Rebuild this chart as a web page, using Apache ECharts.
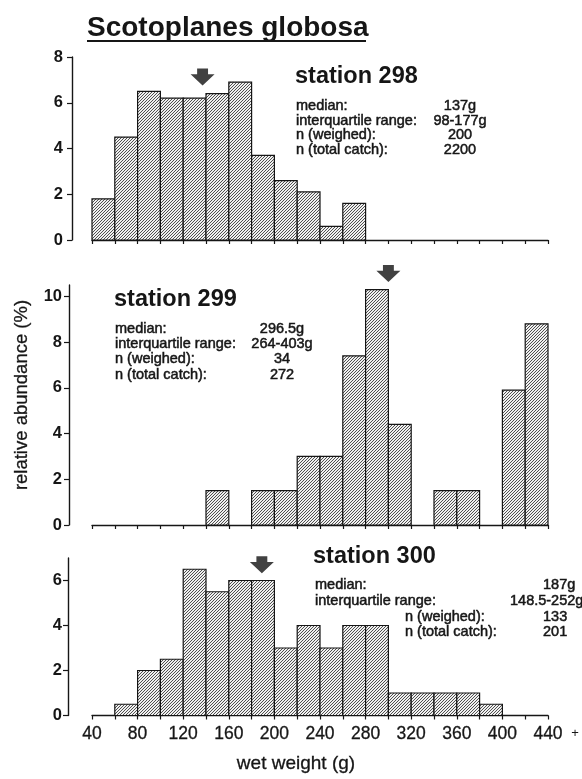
<!DOCTYPE html>
<html>
<head>
<meta charset="utf-8">
<script src="https://cdn.jsdelivr.net/npm/echarts@6/dist/echarts.min.js"></script>
<style>
html,body{margin:0;padding:0;background:#fff;}
#chart{width:582px;height:779px;}
</style>
</head>
<body>
<div id="chart"></div>
<script>
// bin edges (wet weight, g)
const binEdges = [40,60,80,100,120,140,160,180,200,220,240,260,280,300,320,340,360,380,400,420,440];
// relative abundance (%) per bin
const st298 = [1.8,4.5,6.5,6.2,6.2,6.4,6.9,3.7,2.6,2.1,0.6,1.6,0,0,0,0,0,0,0,0];
const st299 = [0,0,0,0,0,1.5,0,1.5,1.5,3.0,3.0,7.4,10.3,4.4,0,1.5,1.5,0,5.9,8.8];
const st300 = [0,0.5,2.0,2.5,6.5,5.5,6.0,6.0,3.0,4.0,3.0,4.0,4.0,1.0,1.0,1.0,1.0,0.5,0,0];
// median arrows: [x position (g), arrow tip (%)]
const arrow298 = [137, 6.75];
const arrow299 = [300, 10.63];
const arrow300 = [189, 6.32];
// tick labels
const xTickLabels = [40,80,120,160,200,240,280,320,360,400,440];
const yTicks298 = [0,2,4,6,8];
const yTicks299 = [0,2,4,6,8,10];
const yTicks300 = [0,2,4,6];
// annotation texts
const info298 = [["median:","137g"],["interquartile range:","98-177g"],["n (weighed):","200"],["n (total catch):","2200"]];
const info299 = [["median:","296.5g"],["interquartile range:","264-403g"],["n (weighed):","34"],["n (total catch):","272"]];
const info300 = [["median:","187g"],["interquartile range:","148.5-252g"],["n (weighed):","133"],["n (total catch):","201"]];

// hatch pattern
const pc = document.createElement('canvas');
pc.width = 3; pc.height = 3;
const pctx = pc.getContext('2d');
const img = pctx.createImageData(3,3);
for (let y=0;y<3;y++) for (let x=0;x<3;x++){
  const i=(y*3+x)*4;
  const dark = ((x+y)%3)===0;
  const c = dark ? 80 : 240;
  img.data[i]=c; img.data[i+1]=c; img.data[i+2]=c; img.data[i+3]=255;
}
pctx.putImageData(img,0,0);
const hatch = {image: pc, repeat: 'repeat'};

function hist(vals){ return vals.map((v,i)=>[binEdges[i], binEdges[i+1], v]); }

function renderItem(params, api){
  const v = api.value(2);
  if (!v) return null;
  const p0 = api.coord([api.value(0), v]);
  const p1 = api.coord([api.value(1), 0]);
  return {type:'rect', shape:{x:p0[0], y:p0[1], width:p1[0]-p0[0], height:p1[1]-p0[1]},
    style:{fill: hatch, stroke:'#151515', lineWidth:1.2}};
}

const FONT = 'Arial, "Liberation Sans", Helvetica, sans-serif';
const INK = '#161616';

function xAxis(idx, showLabels){
  return {
    type:'value', gridIndex: idx, min:40, max:440, interval:20,
    splitLine:{show:false},
    axisLine:{show:true, lineStyle:{color:INK, width:1.4}},
    axisTick:{show:true, length:4, lineStyle:{color:INK, width:1.2}},
    axisLabel: showLabels ? {show:true, customValues:xTickLabels, color:INK, fontSize:17.5, fontFamily:FONT, margin:10,
                              textBorderColor:INK, textBorderWidth:0.3}
                          : {show:false}
  };
}
function yAxis(idx, max, ticks, offset, margin){
  return {
    type:'value', gridIndex: idx, min:0, max:max, offset:offset,
    splitLine:{show:false},
    axisLine:{show:true, lineStyle:{color:INK, width:1.4}},
    axisTick:{show:true, length:5, customValues:ticks, lineStyle:{color:INK, width:1.2}},
    axisLabel:{show:true, customValues:ticks, color:INK, fontSize:16.5, fontWeight:'bold', fontFamily:FONT, margin:margin}
  };
}

const arrowPath = 'path://M6,0 L16,0 L16,6 L22,6 L11,18 L0,6 L6,6 Z';
function arrowSeries(idx, pt){
  return {type:'scatter', xAxisIndex:idx, yAxisIndex:idx, data:[pt], symbol:arrowPath,
    symbolSize:[24,17], symbolOffset:[0,'-50%'], itemStyle:{color:'#111'}, clip:false, silent:true, z:5};
}

function txt(x, y, text, font, align){
  return {type:'text', x:x, y:y, silent:true,
    style:{text:text, font:font, fill:INK, textAlign:align||'left', textVerticalAlign:'middle',
      align:align||'left', verticalAlign:'middle', stroke:INK, lineWidth:0.5}};
}
const infoFont = '14.5px ' + FONT;
const stationFont = 'bold 23.5px ' + FONT;

const graphics = [];
graphics.push({type:'text', x:87, y:28, silent:true,
  style:{text:'Scotoplanes globosa', font:'bold 28px '+FONT, fill:INK, textAlign:'left', textVerticalAlign:'middle', align:'left', verticalAlign:'middle'}});
graphics.push({type:'line', silent:true, shape:{x1:87, y1:41, x2:366, y2:41}, style:{stroke:INK, lineWidth:2}});

graphics.push({type:'text', x:295, y:77, silent:true, style:{text:'station 298', font:stationFont, fill:INK, textAlign:'left', textVerticalAlign:'middle', align:'left', verticalAlign:'middle'}});
[106,120.5,135,149.5].forEach((y,i)=>{
  graphics.push(txt(296, y, info298[i][0], infoFont, 'left'));
  graphics.push(txt(460, y, info298[i][1], infoFont, 'center'));
});

graphics.push({type:'text', x:114, y:299.5, silent:true, style:{text:'station 299', font:stationFont, fill:INK, textAlign:'left', textVerticalAlign:'middle', align:'left', verticalAlign:'middle'}});
[329,344,359,375].forEach((y,i)=>{
  graphics.push(txt(115, y, info299[i][0], infoFont, 'left'));
  graphics.push(txt(282, y, info299[i][1], infoFont, 'center'));
});

graphics.push({type:'text', x:313, y:557, silent:true, style:{text:'station 300', font:stationFont, fill:INK, textAlign:'left', textVerticalAlign:'middle', align:'left', verticalAlign:'middle'}});
const info300X = [[315,543],[315,510],[405,543],[405,543]];
[585,600.5,617,631.5].forEach((y,i)=>{
  graphics.push(txt(info300X[i][0], y, info300[i][0], infoFont, 'left'));
  graphics.push(txt(info300X[i][1], y, info300[i][1], infoFont, 'left'));
});

graphics.push({type:'text', x:575, y:733, silent:true, style:{text:'+', font:'13px '+FONT, fill:INK, textAlign:'center', textVerticalAlign:'middle', align:'center', verticalAlign:'middle'}});
graphics.push({type:'text', x:296, y:764, silent:true, style:{text:'wet weight (g)', font:'19px '+FONT, fill:INK, textAlign:'center', textVerticalAlign:'middle', align:'center', verticalAlign:'middle', stroke:INK, lineWidth:0.3}});
graphics.push({type:'text', x:22, y:395, rotation:Math.PI/2, silent:true, style:{text:'relative abundance (%)', font:'18.5px '+FONT, fill:INK, textAlign:'center', textVerticalAlign:'middle', align:'center', verticalAlign:'middle', stroke:INK, lineWidth:0.3}});

const chart = echarts.init(document.getElementById('chart'), null, {renderer:'canvas'});
chart.setOption({
  backgroundColor:'#ffffff',
  animation:false,
  grid:[
    {left:92, right:34, top:57, height:183},
    {left:92, right:34, top:285, height:240},
    {left:92, right:34, top:558, height:157.5}
  ],
  xAxis:[xAxis(0,false), xAxis(1,false), xAxis(2,true)],
  yAxis:[yAxis(0,8,yTicks298,20,9), yAxis(1,10.5,yTicks299,23,7), yAxis(2,7,yTicks300,24,6)],
  series:[
    {type:'custom', xAxisIndex:0, yAxisIndex:0, data:hist(st298), renderItem:renderItem, encode:{x:[0,1], y:2}, silent:true},
    {type:'custom', xAxisIndex:1, yAxisIndex:1, data:hist(st299), renderItem:renderItem, encode:{x:[0,1], y:2}, silent:true},
    {type:'custom', xAxisIndex:2, yAxisIndex:2, data:hist(st300), renderItem:renderItem, encode:{x:[0,1], y:2}, silent:true},
    arrowSeries(0, arrow298), arrowSeries(1, arrow299), arrowSeries(2, arrow300)
  ],
  graphic: graphics
});
</script>
</body>
</html>
